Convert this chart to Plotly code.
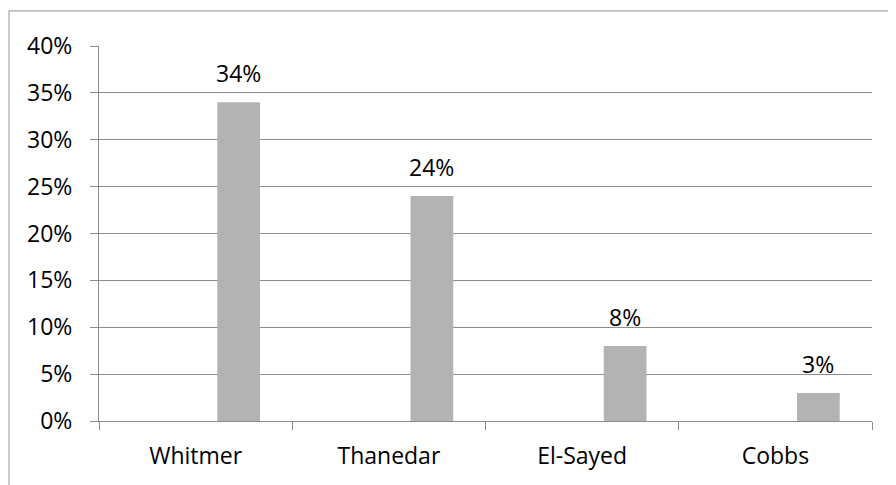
import plotly.graph_objects as go

categories = ["Whitmer", "Thanedar", "El-Sayed", "Cobbs"]
values = [0.34, 0.24, 0.08, 0.03]
labels = ["34%", "24%", "8%", "3%"]
y_ticks = [0, 0.05, 0.10, 0.15, 0.20, 0.25, 0.30, 0.35, 0.40]
y_tick_text = ["0%", "5%", "10%", "15%", "20%", "25%", "30%", "35%", "40%"]

W, H = 896, 485
# page body adds an 8px offset; compensate
ML, MR, MT, MB = 90.5, 32.3, 37.7, 72
FONT = "Open Sans"
GRID = "#8c8c8c"

fig = go.Figure()
fig.add_trace(go.Bar(
    x=categories, y=values,
    marker=dict(color="#b3b3b3", line=dict(width=0)),
    width=0.221, offset=0.112,
    hoverinfo="skip",
))

for c, v, t in zip(categories, values, labels):
    fig.add_annotation(x=c, y=v, text=t, showarrow=False,
                       xshift=43, yanchor="bottom", yshift=11,
                       font=dict(family=FONT, size=23, color="#000000"))

fig.update_layout(
    width=W, height=H,
    margin=dict(l=ML, r=MR, t=MT, b=MB, autoexpand=False),
    paper_bgcolor="white", plot_bgcolor="white",
    showlegend=False,
    font=dict(family=FONT, size=23, color="#000000"),
    xaxis=dict(
        type="category",
        showgrid=False, showline=True, linecolor=GRID, linewidth=1,
        ticks="outside", ticklen=8, tickcolor=GRID, tickson="boundaries",
        ticklabelstandoff=14, automargin=False,
        range=[-0.5, 3.5],
    ),
    yaxis=dict(
        range=[0, 0.40], tickvals=y_ticks, ticktext=y_tick_text,
        showgrid=True, gridcolor=GRID, gridwidth=1,
        showline=True, linecolor=GRID, linewidth=1,
        ticks="outside", ticklen=8, tickcolor=GRID,
        ticklabelstandoff=13, zeroline=False, automargin=False,
    ),
)

pw = W - ML - MR
ph = H - MT - MB
def px(x):
    return (x - ML) / pw
def py(y):
    return (H - MB - y) / ph

# outer chart border (left and top only visible)
fig.add_shape(type="line", xref="paper", yref="paper",
              x0=px(0.5), x1=px(0.5), y0=py(2.5), y1=py(H + 5),
              line=dict(color="#a6a6a6", width=1.2))
fig.add_shape(type="line", xref="paper", yref="paper",
              x0=px(0.5), x1=px(W + 5), y0=py(2.5), y1=py(2.5),
              line=dict(color="#a6a6a6", width=1.2))

fig.write_html("out.html")
